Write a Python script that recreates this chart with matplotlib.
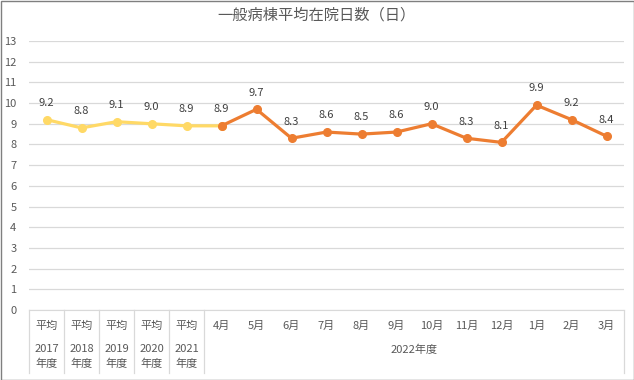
import matplotlib.pyplot as plt
from matplotlib.patches import Rectangle

plt.rcParams['font.family'] = ['Noto Sans CJK JP', 'DejaVu Sans']

title = '一般病棟平均在院日数（日）'
row1 = ['平均', '平均', '平均', '平均', '平均',
        '4月', '5月', '6月', '7月', '8月', '9月', '10月', '11月', '12月', '1月', '2月', '3月']
years = ['2017\n年度', '2018\n年度', '2019\n年度', '2020\n年度', '2021\n年度']
fy_label = '2022年度'

# yearly averages (plus April of FY2022 to connect)
avg_vals = [9.2, 8.8, 9.1, 9.0, 8.9, 8.9]
# monthly FY2022
month_vals = [8.9, 9.7, 8.3, 8.6, 8.5, 8.6, 9.0, 8.3, 8.1, 9.9, 9.2, 8.4]

txt = '#595959'
grid = '#D9D9D9'
yellow = '#FFD966'
orange = '#ED7D31'

fig = plt.figure(figsize=(6.34, 3.80), dpi=100)
ax = fig.add_axes([29/634, 70/380, 595/634, 269/380])

x_avg = list(range(len(avg_vals)))
x_mon = list(range(5, 5 + len(month_vals)))

ax.plot(x_avg, avg_vals, color=yellow, lw=2.3, marker='o', ms=5.5, solid_capstyle='round', zorder=3)
ax.plot(x_mon, month_vals, color=orange, lw=2.3, marker='o', ms=5.5, solid_capstyle='round', zorder=4)

for x, v in zip(x_avg[:5], avg_vals[:5]):
    ax.annotate(f'{v:.1f}', (x, v), xytext=(0, 12), textcoords='offset points',
                ha='center', va='center', fontsize=8, color='#404040')
for x, v in zip(x_mon, month_vals):
    ax.annotate(f'{v:.1f}', (x, v), xytext=(0, 12), textcoords='offset points',
                ha='center', va='center', fontsize=8, color='#404040')

ax.set_xlim(-0.5, 16.5)
ax.set_ylim(0, 13)
ax.set_yticks(range(0, 14))
ax.set_xticks(range(len(row1)))
ax.set_xticklabels(row1)
ax.tick_params(axis='both', length=0, labelsize=8, labelcolor=txt)
ax.tick_params(axis='y', pad=9)
ax.tick_params(axis='x', pad=8)
ax.grid(axis='y', color=grid, lw=0.9)
ax.set_axisbelow(True)
for s in ['top', 'right', 'left']:
    ax.spines[s].set_visible(False)
ax.spines['bottom'].set_color(grid)

tr = ax.get_xaxis_transform()
for i, y in enumerate(years):
    ax.text(i, -0.174, y, transform=tr, ha='center', va='center', fontsize=8,
            color=txt, linespacing=1.55)
ax.text(10.5, -0.149, fy_label, transform=tr, ha='center', va='center', fontsize=8, color=txt)

for b in [-0.5, 0.5, 1.5, 2.5, 3.5, 4.5, 16.5]:
    ax.plot([b, b], [0, -0.234], transform=tr, color=grid, lw=0.9, clip_on=False)

fig.text(0.5, 1 - 15/380, title, ha='center', va='center', fontsize=11, color=txt)
fig.patches.append(Rectangle((0.5/634, 0.5/380), 633/634, 379/380, transform=fig.transFigure,
                             fill=False, edgecolor='#7F7F7F', lw=1))

fig.savefig('out.png', dpi=100)
